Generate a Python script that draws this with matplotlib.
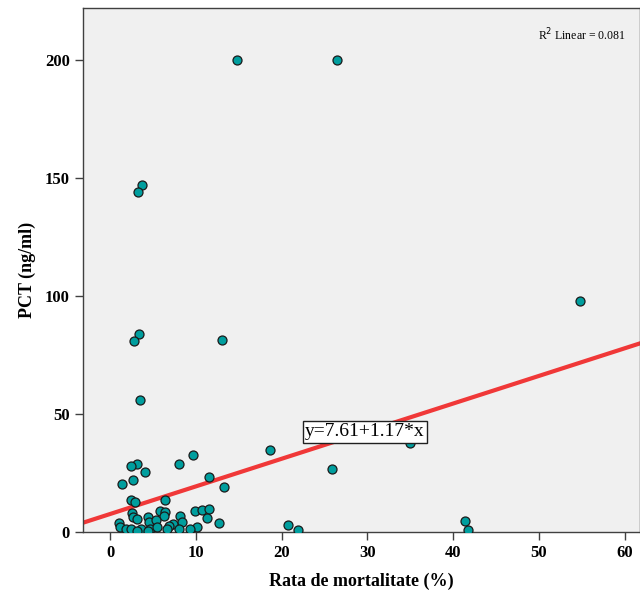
import matplotlib
matplotlib.use("Agg")
import matplotlib.pyplot as plt
import numpy as np

# mortality rate (%) vs PCT (ng/ml)
mortality = [14.8, 26.5, 54.8, 3.7, 3.3, 3.4, 2.8, 13.05, 3.5, 18.6,
             25.9, 35.0, 20.8, 21.9, 41.4, 41.8,
             9.7, 8.0, 3.1, 2.4, 4.1, 11.6, 2.7, 1.4, 13.3,
             2.4, 2.95, 6.4, 9.9, 10.7, 11.6, 11.3, 12.7,
             5.8, 6.4, 6.3, 2.6, 2.7, 3.1, 4.4, 4.6, 5.4,
             8.2, 8.4, 7.4, 6.9, 1.0, 10.1, 9.3,
             1.2, 1.9, 2.5, 3.6, 4.7, 5.5, 6.7, 8.1, 4.4, 3.2]
pct = [200, 200, 97.9, 147, 144, 84, 81, 81.5, 56, 34.7,
       26.7, 37.7, 3.0, 1.0, 4.7, 1.0,
       32.5, 29, 29, 27.8, 25.4, 23.2, 22, 20.2, 18.9,
       13.6, 12.7, 13.6, 8.8, 9.3, 9.9, 5.9, 3.9,
       9.0, 8.5, 6.8, 7.9, 6.5, 5.4, 6.2, 4.2, 5.1,
       6.8, 4.2, 3.4, 2.5, 3.9, 2.3, 1.1,
       2.0, 1.1, 1.4, 1.4, 1.4, 2.0, 1.4, 1.1, 0.5, 0.3]

intercept = 7.61
slope = 1.17
r2 = 0.081

serif = "Liberation Serif"

fig = plt.figure(figsize=(6.4, 5.96), dpi=100)
ax = fig.add_axes([83 / 640, 64 / 596, 557 / 640, 524 / 596])
ax.set_facecolor("#F0F0F0")

ax.scatter(mortality, pct, s=42, c="#009E9E", edgecolors="#1A1A1A",
           linewidths=0.9, zorder=3, clip_on=True)

xlim = (-3.15, 61.8)
xs = np.array(xlim)
ax.plot(xs, intercept + slope * xs, color="#F03838", lw=3, zorder=2)

ax.set_xlim(*xlim)
ax.set_ylim(0, 222)
ax.set_xticks([0, 10, 20, 30, 40, 50, 60])
ax.set_yticks([0, 50, 100, 150, 200])

for s in ax.spines.values():
    s.set_color("#404040")
    s.set_linewidth(1)
ax.tick_params(direction="out", length=6, width=1, color="#404040",
               labelsize=12)
for lab in ax.get_xticklabels() + ax.get_yticklabels():
    lab.set_fontfamily(serif)
    lab.set_fontweight("bold")

ax.set_xlabel("Rata de mortalitate (%)", fontfamily=serif, fontweight="bold",
              fontsize=13, labelpad=8)
ax.set_ylabel("PCT (ng/ml)", fontfamily=serif, fontweight="bold",
              fontsize=13, labelpad=6)

ax.text(0.973, 0.948, "R$^2$ Linear = %.3f" % r2, transform=ax.transAxes,
        ha="right", va="center", fontfamily=serif, fontsize=8.5)

ax.text(29.7, 42.4, "y=%.2f+%.2f*x" % (intercept, slope), ha="center",
        va="center", fontfamily=serif, fontsize=14, zorder=5,
        bbox=dict(boxstyle="square,pad=0.12", fc="white", ec="#202020", lw=1))

fig.savefig("out.png", dpi=100)
